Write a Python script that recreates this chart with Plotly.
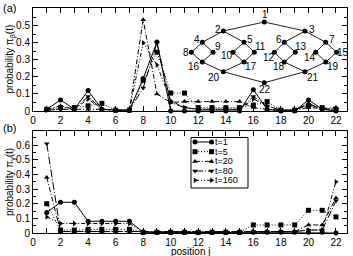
import plotly.graph_objects as go

positions = list(range(1, 23))
series_names = ["t=1", "t=5", "t=20", "t=80", "t=160"]

# panel (a): pi_beta(t)
a_t1 = [0.01, 0.065, 0.01, 0.12, 0.01, 0.005, 0.005, 0.19, 0.405, 0.0, 0.0, 0.0, 0.0, 0.0, 0.0, 0.125, 0.01, 0.0, 0.0, 0.065, 0.01, 0.0]
a_t5 = [0.01, 0.02, 0.02, 0.03, 0.045, 0.005, 0.005, 0.18, 0.345, 0.105, 0.105, 0.02, 0.02, 0.02, 0.02, 0.035, 0.055, 0.005, 0.005, 0.03, 0.02, 0.01]
a_t20 = [0.01, 0.03, 0.01, 0.01, 0.01, 0.005, 0.005, 0.535, 0.10, 0.05, 0.055, 0.055, 0.055, 0.055, 0.055, 0.02, 0.01, 0.005, 0.005, 0.02, 0.015, 0.02]
a_t80 = [0.005, 0.01, 0.01, 0.085, 0.01, 0.005, 0.005, 0.135, 0.40, 0.05, 0.02, 0.01, 0.01, 0.01, 0.01, 0.085, 0.03, 0.005, 0.005, 0.04, 0.01, 0.01]
a_t160 = [0.005, 0.01, 0.01, 0.07, 0.01, 0.005, 0.005, 0.40, 0.27, 0.06, 0.02, 0.01, 0.01, 0.01, 0.01, 0.07, 0.03, 0.005, 0.005, 0.045, 0.01, 0.01]

# panel (b): pi_gamma(t)
b_t1 = [0.14, 0.21, 0.21, 0.08, 0.08, 0.08, 0.08, 0.005, 0.005, 0.005, 0.005, 0.005, 0.005, 0.005, 0.005, 0.005, 0.005, 0.005, 0.005, 0.005, 0.005, 0.0]
b_t5 = [0.20, 0.02, 0.02, 0.025, 0.025, 0.025, 0.025, 0.005, 0.005, 0.005, 0.005, 0.005, 0.005, 0.005, 0.005, 0.055, 0.055, 0.055, 0.055, 0.155, 0.155, 0.11]
b_t20 = [0.38, 0.01, 0.01, 0.01, 0.01, 0.01, 0.01, 0.005, 0.005, 0.005, 0.005, 0.005, 0.005, 0.005, 0.005, 0.01, 0.01, 0.01, 0.01, 0.055, 0.055, 0.24]
b_t80 = [0.61, 0.01, 0.01, 0.01, 0.01, 0.01, 0.01, 0.005, 0.005, 0.005, 0.005, 0.005, 0.005, 0.005, 0.005, 0.01, 0.01, 0.01, 0.01, 0.02, 0.02, 0.22]
b_t160 = [0.11, 0.065, 0.065, 0.065, 0.065, 0.065, 0.065, 0.005, 0.005, 0.005, 0.005, 0.005, 0.005, 0.005, 0.005, 0.01, 0.01, 0.01, 0.01, 0.02, 0.02, 0.35]

x_ticks = list(range(0, 23, 2))
a_yticks = [0, 0.1, 0.2, 0.3, 0.4, 0.5]
b_yticks = [0, 0.1, 0.2, 0.3, 0.4, 0.5, 0.6]

# inset graph (glued binary trees), node labels and edges
node_labels = [str(i) for i in range(1, 23)]
edges = [(1, 2), (1, 3), (2, 4), (2, 5), (3, 6), (3, 7), (4, 8), (4, 9), (5, 10), (5, 11),
         (6, 12), (6, 13), (7, 14), (7, 15), (8, 16), (9, 16), (10, 17), (11, 17), (12, 18),
         (13, 18), (14, 19), (15, 19), (16, 20), (17, 20), (18, 21), (19, 21), (20, 22), (21, 22)]

# ---------------- layout helpers ----------------
W, H = 353, 256
L, R, T, B = 33, 347, 8, 233


def px(x):
    return (x - L) / (R - L)


def py(y):
    return (B - y) / (B - T)


top_dom = [py(111), 1.0]
bot_dom = [0.0, py(131)]

markers = ["circle", "square", "triangle-up", "triangle-down", "triangle-right"]
dashes = ["solid", "1px,2px", "5px,2px,1px,2px", "8px,2px,1px,2px", "4px,2px,1px,2px,1px,2px"]

fig = go.Figure()

a_data = [a_t1, a_t5, a_t20, a_t80, a_t160]
b_data = [b_t1, b_t5, b_t20, b_t80, b_t160]
for i, name in enumerate(series_names):
    fig.add_trace(go.Scatter(x=positions, y=a_data[i], mode="lines+markers", name=name,
                             line=dict(color="black", width=1, dash=dashes[i]),
                             marker=dict(symbol=markers[i], size=5, color="black"),
                             xaxis="x", yaxis="y", showlegend=False, cliponaxis=False))
    fig.add_trace(go.Scatter(x=positions, y=b_data[i], mode="lines+markers", name=name,
                             line=dict(color="black", width=1, dash=dashes[i]),
                             marker=dict(symbol=markers[i], size=5, color="black"),
                             xaxis="x2", yaxis="y2", showlegend=False, cliponaxis=False))

# inset graph in pixel-like coordinates of its own overlay axes
node_px = {1: 264.3, 2: 223.3, 3: 305, 4: 202.3, 5: 244, 6: 284.3, 7: 325.7,
           8: 191.3, 9: 213, 10: 233, 11: 254.3, 12: 274.3, 13: 295.3, 14: 315.7, 15: 336.7,
           16: 202.3, 17: 244, 18: 284.3, 19: 325.7, 20: 223.3, 21: 305, 22: 264.3}
level_y = {1: 22, 2: 31, 3: 31, 4: 42.3, 5: 42.3, 6: 42.3, 7: 42.3}
for n in range(8, 16):
    level_y[n] = 52.3
for n in range(16, 20):
    level_y[n] = 62
level_y[20] = 71.7
level_y[21] = 71.7
level_y[22] = 82.7
label_xy = {1: (264.5, 14.5), 2: (217.5, 29.3), 3: (311.5, 29.3), 4: (196.7, 39.0), 5: (249.5, 39.0),
            6: (279.0, 39.0), 7: (331.5, 39.0), 8: (185.5, 52.3), 9: (218.0, 46.7), 10: (226.5, 55.0),
            11: (260.0, 46.7), 12: (268.5, 57.7), 13: (301.0, 46.7), 14: (310.0, 57.7), 15: (342.5, 52.3),
            16: (193.5, 66.3), 17: (250.5, 66.3), 18: (278.5, 66.3), 19: (333.0, 66.3), 20: (214.0, 77.3),
            21: (313.0, 77.3), 22: (264.5, 89.3)}

ex, ey = [], []
for a, b in edges:
    ex += [node_px[a], node_px[b], None]
    ey += [level_y[a], level_y[b], None]
fig.add_trace(go.Scatter(x=ex, y=ey, mode="lines", line=dict(color="#222", width=1),
                         xaxis="x3", yaxis="y3", showlegend=False, hoverinfo="skip"))
ids = list(range(1, 23))
fig.add_trace(go.Scatter(x=[node_px[i] for i in ids], y=[level_y[i] for i in ids],
                         mode="markers", marker=dict(symbol="circle", size=5, color="black"),
                         xaxis="x3", yaxis="y3", showlegend=False, cliponaxis=False, hoverinfo="skip"))
for i in ids:
    fig.add_annotation(x=label_xy[i][0], y=label_xy[i][1], xref="x3", yref="y3", text=node_labels[i - 1],
                       showarrow=False, xanchor="center", yanchor="middle",
                       font=dict(family="Liberation Sans, Arial", size=10, color="black"))

# manual legend for panel (b)
leg_x0, leg_x1 = 195, 211.5
leg_rows = [142, 151.7, 161.4, 171, 180.3]
for i, name in enumerate(series_names):
    fig.add_trace(go.Scatter(x=[leg_x0, leg_x1], y=[leg_rows[i], leg_rows[i]], mode="lines+markers",
                             line=dict(color="black", width=1, dash=dashes[i]),
                             marker=dict(symbol=markers[i], size=5, color="black"),
                             xaxis="x4", yaxis="y4", showlegend=False, hoverinfo="skip"))
    fig.add_annotation(x=213, y=leg_rows[i], xref="x4", yref="y4", text=name, showarrow=False,
                       xanchor="left", yanchor="middle",
                       font=dict(family="Liberation Sans, Arial", size=9, color="black"))
fig.add_shape(type="rect", x0=191, x1=248, y0=137.5, y1=188, xref="x4", yref="y4",
              line=dict(color="black", width=1))

axis_font = dict(family="Liberation Sans, Arial", size=10, color="black")
common_x = dict(range=[0, 22.8], tickmode="array", tickvals=x_ticks, ticks="inside", ticklen=5,
                showline=True, linecolor="black", linewidth=1, mirror="allticks", showgrid=False,
                zeroline=False, tickfont=axis_font, tickcolor="black", automargin=False,
                minor=dict(dtick=1, tick0=0, ticks="inside", ticklen=5, tickcolor="black"))
common_y = dict(ticks="inside", ticklen=5, showline=True, linecolor="black", linewidth=1,
                mirror="allticks", showgrid=False, zeroline=False, tickfont=axis_font, tickcolor="black",
                automargin=False,
                minor=dict(dtick=0.05, tick0=0, ticks="inside", ticklen=3, tickcolor="black"))

fig.update_layout(
    width=W, height=H, margin=dict(l=L, r=W - R, t=T, b=H - B, pad=0),
    paper_bgcolor="white", plot_bgcolor="rgba(0,0,0,0)", showlegend=False, hovermode=False,
    xaxis=dict(domain=[0, 1], anchor="y", **common_x),
    yaxis=dict(domain=top_dom, anchor="x", range=[0, 0.604], tickmode="array", tickvals=a_yticks,
               ticktext=["0", "0.1", "0.2", "0.3", "0.4", "0.5"], **common_y),
    xaxis2=dict(domain=[0, 1], anchor="y2", **common_x),
    yaxis2=dict(domain=bot_dom, anchor="x2", range=[0, 0.697], tickmode="array", tickvals=b_yticks,
                ticktext=["0", "0.1", "0.2", "0.3", "0.4", "0.5", "0.6"], **common_y),
    xaxis3=dict(overlaying="x", anchor="y3", range=[L, R], visible=False),
    yaxis3=dict(overlaying="y", anchor="x3", range=[111, T], visible=False),
    xaxis4=dict(overlaying="x2", anchor="y4", range=[L, R], visible=False),
    yaxis4=dict(overlaying="y2", anchor="x4", range=[B, 131], visible=False),
)

lab_font = dict(family="Liberation Sans, Arial", size=11, color="black")
fig.add_annotation(x=px(1), y=py(8), xref="paper", yref="paper", text="(a)", showarrow=False,
                   xanchor="left", yanchor="middle", font=lab_font)
fig.add_annotation(x=px(1), y=py(128), xref="paper", yref="paper", text="(b)", showarrow=False,
                   xanchor="left", yanchor="middle", font=lab_font)
fig.add_annotation(x=px(10), y=py(59.5), xref="paper", yref="paper",
                   text="probability π<sub>β</sub>(t)", textangle=-90, showarrow=False,
                   xanchor="center", yanchor="middle", font=axis_font)
fig.add_annotation(x=px(10), y=py(182), xref="paper", yref="paper",
                   text="probability π<sub>γ</sub>(t)", textangle=-90, showarrow=False,
                   xanchor="center", yanchor="middle", font=axis_font)
fig.add_annotation(x=px(190), y=py(251.5), xref="paper", yref="paper", text="position j",
                   showarrow=False, xanchor="center", yanchor="middle", font=axis_font)

fig.write_html("out.html", post_script="document.body.style.margin='0';",
               config={"displayModeBar": False})
